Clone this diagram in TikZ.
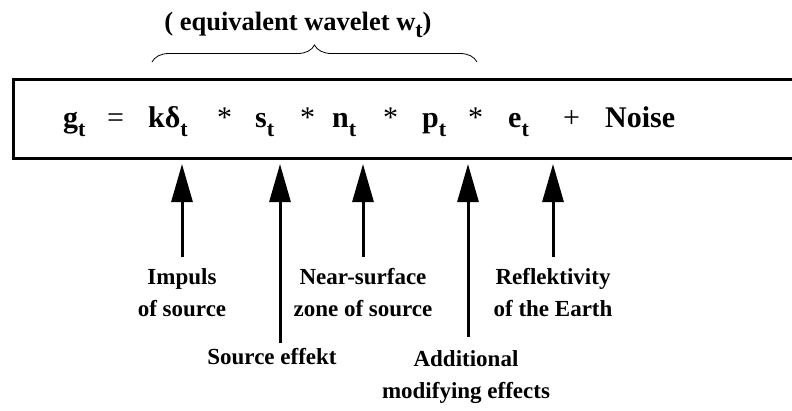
\documentclass[tikz,border=0pt]{standalone}
\usepackage{fontspec}
\setmainfont{Liberation Serif}
\usetikzlibrary{arrows.meta,decorations.pathreplacing}
\newcommand{\lowt}{\raisebox{-0.3em}{\fontsize{22}{22}\selectfont t}}

\begin{document}
\begin{tikzpicture}[x=1pt, y=-1pt,
    term/.style={anchor=base west, inner sep=0pt, font=\fontsize{30}{30}\selectfont\bfseries},
    op/.style={anchor=base west, inner sep=0pt, font=\fontsize{30}{30}\selectfont},
    lbl/.style={align=center, font=\fontsize{23}{32}\selectfont\bfseries},
    up/.style={line width=3pt, -{Triangle[length=38pt,width=21pt]}, shorten >=4pt}]
            \clip (0,0) rectangle (792,410);
            % title and brace
            \node[anchor=base, font=\fontsize{26.5}{26.5}\selectfont\bfseries] (title) at (298,30) {( equivalent wavelet w\lowt)};
            \draw[line width=0.8pt, decorate, decoration={brace, amplitude=17pt}] (152,62) -- (477,62);
            % the box
            \node[draw, line width=3pt, minimum width=808pt, minimum height=79pt, anchor=north west, inner sep=0pt] (box) at (12,78) {};
            % the equation
            \node[term] (g) at (63,127) {g\lowt};
            \node[op] (eq) at (107,127) {=};
            \node[term] (kd) at (148,127) {kδ\lowt};
            \node[term] (s) at (255,127) {s\lowt};
            \node[term] (n) at (332,127) {n\lowt};
            \node[term] (p) at (422,127) {p\lowt};
            \node[term] (e) at (508,127) {e\lowt};
            \node[op] (plus) at (563,127) {+};
            \node[term] (noise) at (605,127) {Noise};
            \foreach \x [count=\i] in {217,300,383,468}
                \node[op] (ast\i) at (\x,127) {*};
            % labels and arrows
            \node[lbl] (impuls) at (182,293) {Impuls\\of source};
            \node[lbl] (near) at (363,293) {Near-surface\\zone of source};
            \node[lbl] (refl) at (553,293) {Reflektivity\\of the Earth};
            \node[lbl] (srceff) at (272,357) {Source effekt};
            \node[lbl] (addit) at (466,377) {Additional\\modifying effects};
            \coordinate (stail) at (280,343);
            \coordinate (ptail) at (468,337);
            \draw[up, shorten <=8pt] (impuls) -- (impuls |- box.south);
            \draw[up, shorten <=8pt] (near) -- (near |- box.south);
            \draw[up, shorten <=8pt] (refl) -- (refl |- box.south);
            \draw[up] (stail) -- (stail |- box.south);
            \draw[up] (ptail) -- (ptail |- box.south);
\end{tikzpicture}
\end{document}
